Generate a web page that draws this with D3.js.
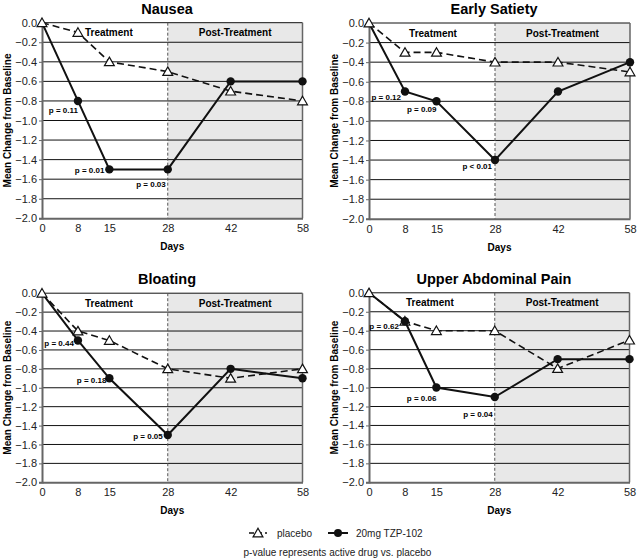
<!DOCTYPE html>
<html><head><meta charset="utf-8">
<script src="https://cdn.jsdelivr.net/npm/d3@7"></script>
<style>body{margin:0;background:#fff}svg{display:block;font-family:"Liberation Sans",Arial,sans-serif}</style>
</head><body><svg id="c" width="637" height="559"></svg>
<script>
const days = [0, 8, 15, 28, 42, 58];
const yTicks = [0, -0.2, -0.4, -0.6, -0.8, -1.0, -1.2, -1.4, -1.6, -1.8, -2.0];
const titles = ["Nausea", "Early Satiety", "Bloating", "Upper Abdominal Pain"];
const placeboNausea = [0, -0.1, -0.4, -0.5, -0.7, -0.8];
const drugNausea = [0, -0.8, -1.5, -1.5, -0.6, -0.6];
const placeboSatiety = [0, -0.3, -0.3, -0.4, -0.4, -0.5];
const drugSatiety = [0, -0.7, -0.8, -1.4, -0.7, -0.4];
const placeboBloating = [0, -0.4, -0.5, -0.8, -0.9, -0.8];
const drugBloating = [0, -0.5, -0.9, -1.5, -0.8, -0.9];
const placeboPain = [0, -0.3, -0.4, -0.4, -0.8, -0.5];
const drugPain = [0, -0.3, -1.0, -1.1, -0.7, -0.7];
const pNausea = ["p = 0.11", "p = 0.01", "p = 0.03"];
const pSatiety = ["p = 0.12", "p = 0.09", "p < 0.01"];
const pBloating = ["p = 0.44", "p = 0.18", "p = 0.05"];
const pPain = ["p = 0.62", "p = 0.06", "p = 0.04"];
const pDays = [8, 15, 28];
const treatmentEnd = 28;
const seriesNames = ["placebo", "20mg TZP-102"];
const footnote = "p-value represents active drug vs. placebo";

// layout (positions only)
const boxes = [
  {l: 42, r: 302.5, t: 22.7, b: 218.3, ty: 14, tdx: 4},
  {l: 369, r: 630, t: 23, b: 218.8, ty: 14, tdx: 1},
  {l: 42, r: 302.5, t: 293.2, b: 482.3, ty: 284, tdx: 4},
  {l: 369, r: 629.5, t: 292.8, b: 482.3, ty: 284, tdx: -2}
];
// p-label offsets [dx, dy] relative to the drug point
const pOff = [
  [[0, 12], [-5, 4], [-2, 18]],
  [[-4, 8], [0, 11], [-3, 9]],
  [[-4, 6], [-3, 5], [-5, 4]],
  [[-6, 8], [0, 13], [-2, 20]]
];

const panels = [
  {title: titles[0], placebo: placeboNausea, drug: drugNausea, p: pNausea},
  {title: titles[1], placebo: placeboSatiety, drug: drugSatiety, p: pSatiety},
  {title: titles[2], placebo: placeboBloating, drug: drugBloating, p: pBloating},
  {title: titles[3], placebo: placeboPain, drug: drugPain, p: pPain}
];

const svg = d3.select("#c");
const tri = d3.symbol().type(d3.symbolTriangle).size(42);

panels.forEach((pn, i) => {
  const bx = boxes[i];
  const x = d3.scaleLinear().domain([0, 58]).range([bx.l, bx.r]);
  const y = d3.scaleLinear().domain([-2, 0]).range([bx.b, bx.t]);
  const g = svg.append("g");

  g.append("rect").attr("x", x(treatmentEnd)).attr("y", y(0))
    .attr("width", x(58) - x(treatmentEnd)).attr("height", y(-2) - y(0))
    .attr("fill", "#e8e8e8");

  g.selectAll(".grid").data(yTicks.filter(v => v > -2)).enter().append("line")
    .attr("x1", x(0)).attr("x2", x(58)).attr("y1", d => y(d)).attr("y2", d => y(d))
    .attr("stroke", "#111").attr("stroke-width", 1);

  g.append("line").attr("x1", x(58)).attr("x2", x(58)).attr("y1", y(0)).attr("y2", y(-2))
    .attr("stroke", "#666").attr("stroke-width", 1.5);

  g.append("line").attr("x1", x(treatmentEnd)).attr("x2", x(treatmentEnd)).attr("y1", y(0)).attr("y2", y(-2))
    .attr("stroke", "#555").attr("stroke-width", 1).attr("stroke-dasharray", "3,2");

  const ya = d3.axisLeft(y).tickValues(yTicks).tickFormat(d3.format(".1f")).tickSize(3).tickPadding(2);
  const yg = g.append("g").attr("transform", `translate(${x(0)},0)`).call(ya);
  yg.select(".domain").attr("stroke", "#666").attr("stroke-width", 2);
  yg.selectAll(".tick line").attr("stroke", "#666");
  yg.selectAll("text").attr("font-size", 11).attr("fill", "#222");

  const xa = d3.axisBottom(x).tickValues(days).tickFormat(d3.format("d")).tickSize(0).tickPadding(6);
  const xg = g.append("g").attr("transform", `translate(0,${y(-2)})`).call(xa);
  xg.select(".domain").attr("stroke", "#666").attr("stroke-width", 2);
  xg.selectAll("text").attr("font-size", 11).attr("fill", "#222");

  g.append("text").attr("x", bx.l + 125).attr("y", bx.ty).attr("text-anchor", "middle")
    .attr("font-size", 14.5).attr("font-weight", "bold").text(pn.title);
  g.append("text").attr("x", (bx.l + bx.r) / 2).attr("y", bx.b + 32).attr("text-anchor", "middle")
    .attr("font-size", 10).attr("font-weight", "bold").text("Days");
  g.append("text").attr("transform", `translate(${bx.l - 31.5},${(bx.t + bx.b) / 2}) rotate(-90)`)
    .attr("text-anchor", "middle").attr("font-size", 10).attr("font-weight", "bold")
    .text("Mean Change from Baseline");
  g.append("text").attr("x", (x(0) + x(treatmentEnd)) / 2 + bx.tdx).attr("y", y(-0.1) + 4)
    .attr("text-anchor", "middle").attr("font-size", 10).attr("font-weight", "bold").text("Treatment");
  g.append("text").attr("x", (x(treatmentEnd) + x(58)) / 2).attr("y", y(-0.1) + 4)
    .attr("text-anchor", "middle").attr("font-size", 10).attr("font-weight", "bold").text("Post-Treatment");

  const line = d3.line().x((d, j) => x(days[j])).y(d => y(d));
  g.append("path").datum(pn.placebo).attr("d", line).attr("fill", "none")
    .attr("stroke", "#111").attr("stroke-width", 1.6).attr("stroke-dasharray", "7,4");
  g.append("path").datum(pn.drug).attr("d", line).attr("fill", "none")
    .attr("stroke", "#111").attr("stroke-width", 2);

  g.selectAll(".pt").data(pn.placebo).enter().append("path")
    .attr("d", tri).attr("transform", (d, j) => `translate(${x(days[j])},${y(d) + 1})`)
    .attr("fill", "#fff").attr("stroke", "#111").attr("stroke-width", 1.2);
  g.selectAll(".dt").data(pn.drug.slice(1)).enter().append("circle")
    .attr("cx", (d, j) => x(days[j + 1])).attr("cy", d => y(d)).attr("r", 4.2).attr("fill", "#111");

  pn.p.forEach((t, k) => {
    const dIdx = days.indexOf(pDays[k]);
    g.append("text").attr("x", x(pDays[k]) + pOff[i][k][0]).attr("y", y(pn.drug[dIdx]) + pOff[i][k][1])
      .attr("text-anchor", "end").attr("font-size", 8).attr("font-weight", "bold").text(t);
  });
});

const lg = svg.append("g");
lg.append("line").attr("x1", 249).attr("x2", 267).attr("y1", 533).attr("y2", 533)
  .attr("stroke", "#111").attr("stroke-width", 1.6).attr("stroke-dasharray", "5,3");
lg.append("path").attr("d", tri).attr("transform", "translate(258,534)")
  .attr("fill", "#fff").attr("stroke", "#111").attr("stroke-width", 1.2);
lg.append("text").attr("x", 277).attr("y", 537).attr("font-size", 10).attr("fill", "#222").text(seriesNames[0]);
lg.append("line").attr("x1", 328).attr("x2", 348).attr("y1", 533).attr("y2", 533)
  .attr("stroke", "#111").attr("stroke-width", 2);
lg.append("circle").attr("cx", 338).attr("cy", 533).attr("r", 4).attr("fill", "#111");
lg.append("text").attr("x", 356).attr("y", 537).attr("font-size", 10).attr("fill", "#222").text(seriesNames[1]);
svg.append("text").attr("x", 337.5).attr("y", 556).attr("text-anchor", "middle")
  .attr("font-size", 10).attr("fill", "#222").text(footnote);
</script></body></html>
